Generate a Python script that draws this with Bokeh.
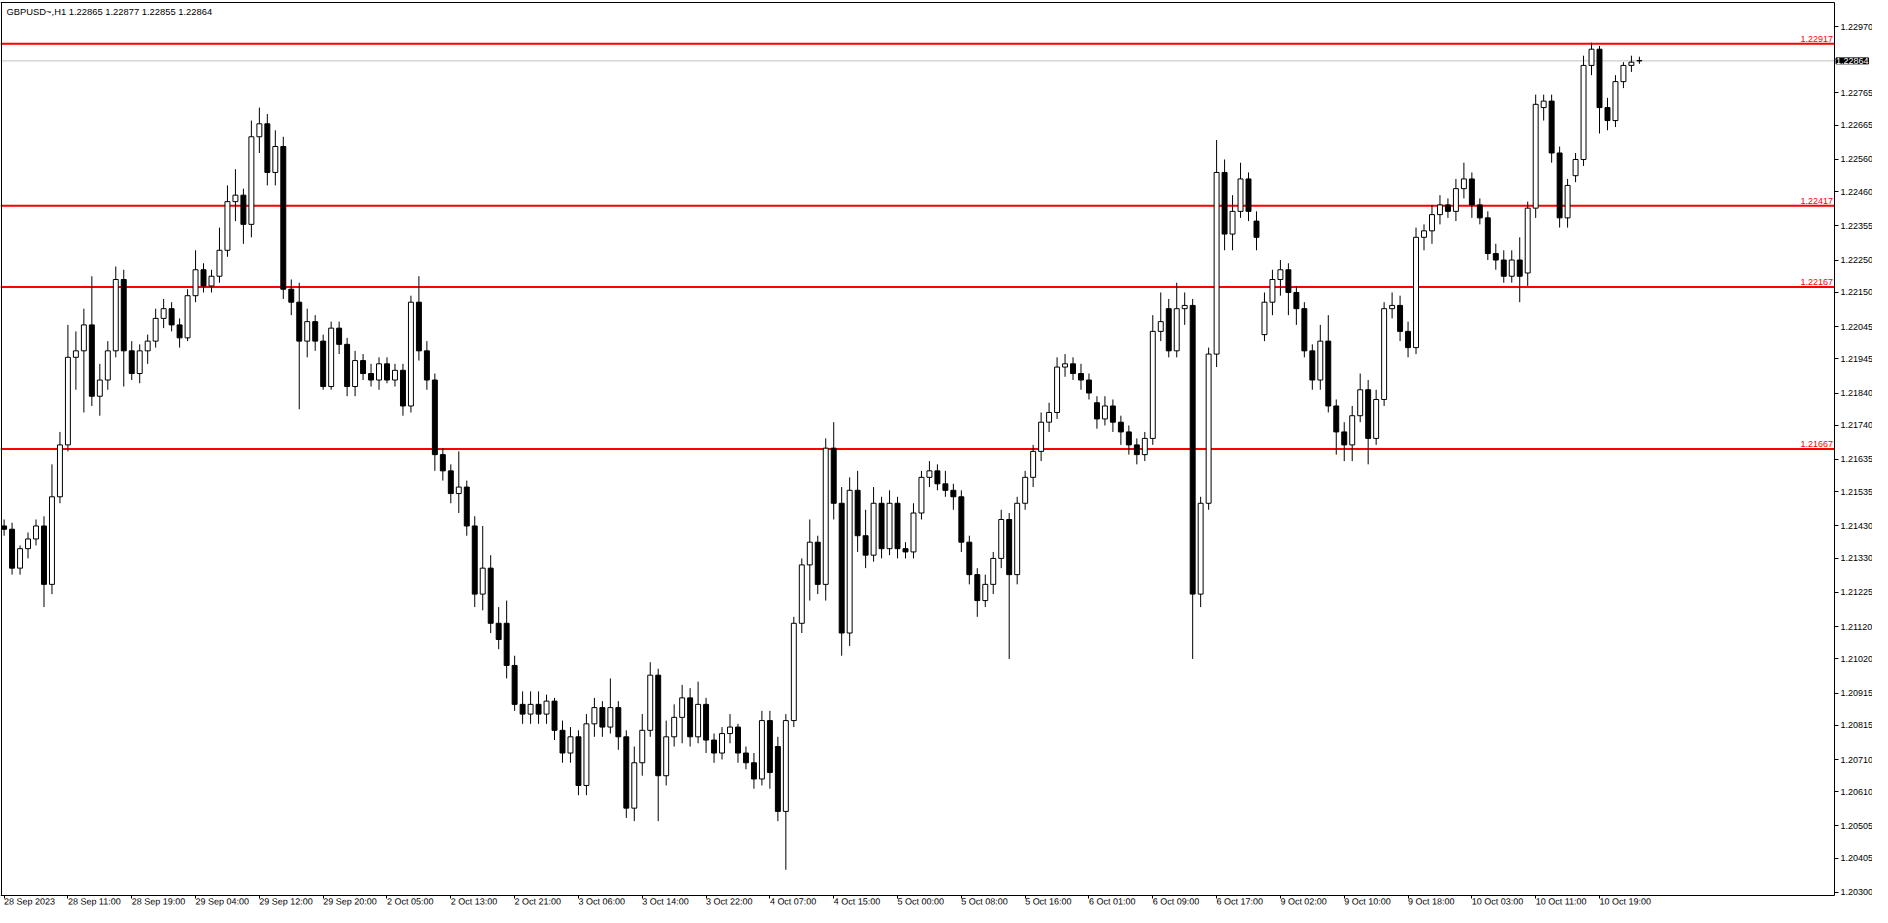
from bokeh.plotting import figure
from bokeh.models import FixedTicker, Range1d, Label, PrintfTickFormatter, ColumnDataSource, LinearAxis
from bokeh.embed import file_html
from bokeh.resources import INLINE

opens = [1.2143,1.2142,1.2130,1.2136,1.2139,1.2143,1.2125,1.2152,1.2168,1.2195,1.2197,1.2205,1.2183,1.2188,1.2197,1.2219,1.2197,1.2190,1.2197,1.2200,
         1.2207,1.2210,1.2205,1.2201,1.2214,1.2222,1.2217,1.2220,1.2228,1.2243,1.2245,1.2236,1.2263,1.2267,1.2252,1.2260,1.2216,1.2212,1.2200,1.2206,
         1.2200,1.2186,1.2204,1.2199,1.2186,1.2194,1.2190,1.2188,1.2193,1.2188,1.2191,1.2180,1.2212,1.2197,1.2188,1.2165,1.2160,1.2153,1.2155,1.2143,
         1.2122,1.2130,1.2113,1.2113,1.2100,1.2088,1.2085,1.2088,1.2085,1.2089,1.2080,1.2073,1.2078,1.2063,1.2082,1.2087,1.2081,1.2087,1.2078,1.2056,
         1.2070,1.2080,1.2097,1.2066,1.2078,1.2084,1.2090,1.2078,1.2088,1.2077,1.2073,1.2079,1.2081,1.2073,1.2070,1.2065,1.2083,1.2075,1.2055,1.2083,
         1.2113,1.2131,1.2138,1.2125,1.2167,1.2150,1.2110,1.2154,1.2140,1.2134,1.2150,1.2136,1.2150,1.2136,1.2135,1.2147,1.2158,1.2160,1.2156,1.2154,
         1.2152,1.2138,1.2128,1.2120,1.2125,1.2133,1.2145,1.2128,1.2150,1.2158,1.2166,1.2175,1.2178,1.2192,1.2193,1.2190,1.2188,1.2181,1.2176,
         1.2180,1.2175,1.2172,1.2168,1.2165,1.2170,1.2203,1.2210,1.2197,1.2210,1.2211,1.2122,1.2150,1.2196,1.2252,1.2233,1.2240,1.2250,1.2237,
         1.2202,1.2212,1.2219,1.2222,1.2215,1.2210,1.2197,1.2188,1.2200,1.2180,1.2172,1.2168,1.2177,1.2185,1.2170,1.2182,1.2210,1.2211,1.2203,1.2198,
         1.2232,1.2234,1.2239,1.2242,1.2240,1.2247,1.2250,1.2242,1.2238,1.2227,1.2225,1.2220,1.2225,1.2221,1.2241,1.2272,1.2274,1.2258,1.2238,
         1.2251,1.2256,1.2285,1.2290,1.2272,1.2268,1.2280,1.2285,1.22865]
highs = [1.2145,1.2144,1.2137,1.2141,1.2145,1.2146,1.2162,1.2172,1.2205,1.2203,1.2210,1.2220,1.2193,1.2200,1.2223,1.2222,1.2200,1.2199,1.2202,1.2210,
         1.2213,1.2212,1.2207,1.2216,1.2228,1.2224,1.2222,1.2235,1.2248,1.2253,1.2247,1.2268,1.2272,1.2270,1.2265,1.2263,1.2219,1.2218,1.2210,1.2208,
         1.2202,1.2206,1.2206,1.2201,1.2197,1.2196,1.2193,1.2195,1.2195,1.2193,1.2193,1.2214,1.2220,1.2200,1.2190,1.2167,1.2162,1.2166,1.2157,1.2146,
         1.2143,1.2134,1.2118,1.2120,1.2103,1.2092,1.2092,1.2092,1.2091,1.2090,1.2083,1.2081,1.2080,1.2085,1.2090,1.2089,1.2096,1.2089,1.2080,1.2075,
         1.2085,1.2101,1.2099,1.2083,1.2088,1.2094,1.2093,1.2095,1.2090,1.2079,1.2081,1.2085,1.2082,1.2075,1.2073,1.2086,1.2086,1.2078,1.2085,1.2115,
         1.2133,1.2145,1.2140,1.2170,1.2175,1.2155,1.2158,1.2160,1.2148,1.2155,1.2152,1.2154,1.2152,1.2138,1.2150,1.2160,1.2163,1.2162,1.2160,1.2156,
         1.2154,1.2140,1.2130,1.2128,1.2135,1.2148,1.2147,1.2152,1.2160,1.2168,1.2178,1.2181,1.2195,1.2196,1.2195,1.2193,1.2190,1.2183,1.2183,
         1.2182,1.2177,1.2174,1.2170,1.2172,1.2208,1.2215,1.2213,1.2218,1.2215,1.2213,1.2152,1.2198,1.2262,1.2256,1.2245,1.2255,1.2252,1.2240,
         1.2215,1.2222,1.2225,1.2224,1.2217,1.2212,1.2199,1.2205,1.2208,1.2182,1.2175,1.2180,1.2190,1.2188,1.2185,1.2212,1.2215,1.2214,1.2206,1.2235,
         1.2236,1.2242,1.2245,1.2244,1.2250,1.2255,1.2252,1.2244,1.2240,1.2230,1.2228,1.2228,1.2232,1.2243,1.2276,1.2276,1.2276,1.2260,1.2250,
         1.2258,1.2288,1.2292,1.2291,1.2275,1.2282,1.2286,1.2288,1.22877]
lows = [1.2140,1.2128,1.2128,1.2133,1.2137,1.2118,1.2122,1.2150,1.2166,1.2185,1.2178,1.2180,1.2177,1.2185,1.2195,1.2186,1.2188,1.2187,1.2193,1.2198,
        1.2204,1.2203,1.2198,1.2200,1.2212,1.2215,1.2215,1.2218,1.2226,1.2237,1.2230,1.2232,1.2258,1.2248,1.2248,1.2213,1.2208,1.2179,1.2195,1.2197,
        1.2185,1.2185,1.2196,1.2183,1.2183,1.2188,1.2186,1.2185,1.2187,1.2186,1.2177,1.2178,1.2194,1.2185,1.2160,1.2157,1.2150,1.2147,1.2140,1.2118,
        1.2117,1.2110,1.2105,1.2096,1.2086,1.2082,1.2082,1.2082,1.2082,1.2077,1.2070,1.2070,1.2060,1.2060,1.2078,1.2078,1.2079,1.2074,1.2053,1.2052,
        1.2066,1.2078,1.2052,1.2063,1.2075,1.2076,1.2075,1.2076,1.2073,1.2070,1.2071,1.2076,1.2070,1.2068,1.2062,1.2063,1.2062,1.2052,1.2037,1.2081,
        1.2110,1.2120,1.2122,1.2120,1.2145,1.2103,1.2106,1.2135,1.2130,1.2132,1.2133,1.2134,1.2133,1.2133,1.2133,1.2145,1.2155,1.2154,1.2152,1.2148,
        1.2135,1.2125,1.2115,1.2118,1.2122,1.2130,1.2102,1.2125,1.2148,1.2155,1.2163,1.2172,1.2176,1.2189,1.2188,1.2185,1.2182,1.2173,1.2174,
        1.2172,1.2168,1.2165,1.2162,1.2163,1.2168,1.2200,1.2195,1.2195,1.2205,1.2102,1.2118,1.2148,1.2192,1.2228,1.2228,1.2238,1.2237,1.2228,
        1.2200,1.2208,1.2214,1.2208,1.2205,1.2195,1.2185,1.2185,1.2178,1.2165,1.2163,1.2163,1.2175,1.2162,1.2168,1.2180,1.2207,1.2200,1.2195,1.2196,
        1.2228,1.2230,1.2236,1.2238,1.2237,1.2244,1.2238,1.2236,1.2225,1.2222,1.2218,1.2218,1.2212,1.2217,1.2238,1.2268,1.2255,1.2235,1.2235,
        1.2249,1.2254,1.2282,1.2264,1.2265,1.2266,1.2278,1.2283,1.22855]
closes = [1.2142,1.2130,1.2136,1.2139,1.2143,1.2125,1.2152,1.2168,1.2195,1.2197,1.2205,1.2183,1.2188,1.2197,1.2219,1.2197,1.2190,1.2197,1.2200,1.2207,
          1.2210,1.2205,1.2201,1.2214,1.2222,1.2217,1.2220,1.2228,1.2243,1.2245,1.2236,1.2263,1.2267,1.2252,1.2260,1.2216,1.2212,1.2200,1.2206,1.2200,
          1.2186,1.2204,1.2199,1.2186,1.2194,1.2190,1.2188,1.2193,1.2188,1.2191,1.2180,1.2212,1.2197,1.2188,1.2165,1.2160,1.2153,1.2155,1.2143,1.2122,
          1.2130,1.2113,1.2108,1.2100,1.2088,1.2085,1.2088,1.2085,1.2089,1.2080,1.2073,1.2078,1.2063,1.2082,1.2087,1.2081,1.2087,1.2078,1.2056,1.2070,
          1.2080,1.2097,1.2066,1.2078,1.2084,1.2090,1.2078,1.2088,1.2077,1.2073,1.2079,1.2081,1.2073,1.2070,1.2065,1.2083,1.2067,1.2055,1.2083,1.2113,
          1.2131,1.2138,1.2125,1.2167,1.2150,1.2110,1.2154,1.2140,1.2134,1.2150,1.2136,1.2150,1.2136,1.2135,1.2147,1.2158,1.2160,1.2156,1.2154,1.2152,
          1.2138,1.2128,1.2120,1.2125,1.2133,1.2145,1.2128,1.2150,1.2158,1.2166,1.2175,1.2178,1.2192,1.2193,1.2190,1.2188,1.2184,1.2176,1.2180,
          1.2175,1.2172,1.2168,1.2165,1.2170,1.2203,1.2206,1.2197,1.2210,1.2211,1.2122,1.2150,1.2196,1.2252,1.2233,1.2240,1.2250,1.2240,1.2232,
          1.2212,1.2219,1.2222,1.2215,1.2210,1.2197,1.2188,1.2200,1.2180,1.2172,1.2168,1.2177,1.2185,1.2170,1.2182,1.2210,1.2211,1.2203,1.2198,1.2232,
          1.2234,1.2239,1.2242,1.2240,1.2247,1.2250,1.2242,1.2238,1.2227,1.2225,1.2220,1.2225,1.2220,1.2241,1.2273,1.2274,1.2258,1.2238,1.2248,
          1.2256,1.2285,1.2290,1.2272,1.2268,1.2280,1.2285,1.2286,1.22864]

time_tick_bars = [0, 8, 16, 24, 32, 40, 48, 56, 64, 72, 80, 88, 96, 104, 112, 120, 128, 136, 144, 152, 160, 168, 176, 184, 192, 200]
time_tick_labels = ["28 Sep 2023", "28 Sep 11:00", "28 Sep 19:00", "29 Sep 04:00", "29 Sep 12:00", "29 Sep 20:00",
                    "2 Oct 05:00", "2 Oct 13:00", "2 Oct 21:00", "3 Oct 06:00", "3 Oct 14:00", "3 Oct 22:00",
                    "4 Oct 07:00", "4 Oct 15:00", "5 Oct 00:00", "5 Oct 08:00", "5 Oct 16:00", "6 Oct 01:00",
                    "6 Oct 09:00", "6 Oct 17:00", "9 Oct 02:00", "9 Oct 10:00", "9 Oct 18:00", "10 Oct 03:00",
                    "10 Oct 11:00", "10 Oct 19:00"]
price_ticks = [1.22970, 1.22765, 1.22665, 1.22560, 1.22460, 1.22355, 1.22250, 1.22150, 1.22045, 1.21945,
               1.21840, 1.21740, 1.21635, 1.21535, 1.21430, 1.21330, 1.21225, 1.21120, 1.21020, 1.20915,
               1.20815, 1.20710, 1.20610, 1.20505, 1.20405, 1.20300]
level_values = [1.22917, 1.22417, 1.22167, 1.21667]
bid_price = 1.22864
title_text = "GBPUSD~,H1  1.22865 1.22877 1.22855 1.22864"

FONT = "Liberation Sans"
W, H = 1872, 907
PX_PER_BAR = 7.977
BAR0_PX = 3.6
PX_PER_PRICE = 32434.0
REF_PRICE, REF_PX = 1.22970, 26.0


def price_at(px):
    return REF_PRICE - (px - REF_PX) / PX_PER_PRICE


def bar_at(px):
    return (px - BAR0_PX) / PX_PER_BAR


x_start, x_end = bar_at(0), bar_at(W)
y_hi, y_lo = price_at(0), price_at(H)
axis_x = bar_at(1834)
top_y = price_at(2)
bottom_y = price_at(895)
left_x = bar_at(0.5)

n = len(opens)
idx = list(range(n))
body_top = [max(o, c) for o, c in zip(opens, closes)]
body_bot = [min(o, c) for o, c in zip(opens, closes)]
fills = ["white" if c >= o else "black" for o, c in zip(opens, closes)]
src = ColumnDataSource(dict(x=idx, high=highs, low=lows, top=body_top, bottom=body_bot, fill=fills))

p = figure(width=W, height=H, output_backend="svg", toolbar_location=None,
           x_range=Range1d(x_start, x_end), y_range=Range1d(y_lo, y_hi),
           x_axis_location=None, y_axis_location=None, min_border=0)
p.min_border_left = p.min_border_right = p.min_border_top = p.min_border_bottom = 0
p.background_fill_color = "white"
p.border_fill_color = "white"
p.outline_line_color = None
p.grid.visible = False

# horizontal levels and bid line, ending at the price scale
p.segment(x0=[x_start] * len(level_values), y0=level_values, x1=[axis_x] * len(level_values), y1=level_values,
          line_color="#ff0000", line_width=2)
p.segment(x0=[x_start], y0=[bid_price], x1=[axis_x], y1=[bid_price], line_color="#c0c0c0", line_width=1)

# candles
p.segment(x0="x", y0="low", x1="x", y1="high", source=src, line_color="black", line_width=1)
p.vbar(x="x", width=0.62, top="top", bottom="bottom", source=src, fill_color="fill", line_color="black", line_width=1)

# price scale
yax = LinearAxis(fixed_location=axis_x, bounds=(bottom_y, top_y), ticker=FixedTicker(ticks=price_ticks),
                 formatter=PrintfTickFormatter(format="%.5f"))
yax.major_label_text_font = FONT
yax.major_label_text_font_size = "9px"
yax.major_label_text_color = "black"
yax.major_tick_out = 4
yax.major_tick_in = 0
yax.minor_tick_line_color = None
yax.axis_line_color = "black"
yax.major_label_standoff = 2
p.add_layout(yax, "right")

# time scale
xax = LinearAxis(fixed_location=bottom_y, bounds=(x_start, axis_x), ticker=FixedTicker(ticks=time_tick_bars))
xax.major_label_overrides = {b: s for b, s in zip(time_tick_bars, time_tick_labels)}
xax.major_label_text_font = FONT
xax.major_label_text_font_size = "9px"
xax.major_label_text_color = "black"
xax.major_label_orientation = -0.001
xax.major_tick_out = 3
xax.major_tick_in = 0
xax.minor_tick_line_color = None
xax.axis_line_color = "black"
xax.major_label_standoff = 3
p.add_layout(xax, "below")

# top and left edges of the chart box
top_ax = LinearAxis(fixed_location=top_y, bounds=(x_start, axis_x), ticker=FixedTicker(ticks=[]))
left_ax = LinearAxis(fixed_location=left_x, bounds=(bottom_y, top_y), ticker=FixedTicker(ticks=[]))
for ax in (top_ax, left_ax):
    ax.axis_line_color = "black"
    ax.major_tick_line_color = None
    ax.minor_tick_line_color = None
    ax.major_label_text_font_size = "0px"
p.add_layout(top_ax, "above")
p.add_layout(left_ax, "left")

# texts
for v in level_values:
    p.add_layout(Label(x=axis_x - 1.5 / PX_PER_BAR, y=v, text="%.5f" % v, text_align="right", text_baseline="bottom",
                       text_color="#ff0000", text_font=FONT, text_font_size="9px", y_offset=2))
p.add_layout(Label(x=axis_x + 1.5 / PX_PER_BAR, y=bid_price, text="%.5f" % bid_price,
                   text_align="left", text_baseline="middle", text_color="white", text_font=FONT,
                   text_font_size="9px", background_fill_color="black", border_line_color="black"))
p.add_layout(Label(x=bar_at(6), y=price_at(11), text=title_text, text_align="left", text_baseline="middle",
                   text_color="black", text_font=FONT, text_font_size="9.4px"))

open("out.html", "w").write(file_html(p, INLINE))
